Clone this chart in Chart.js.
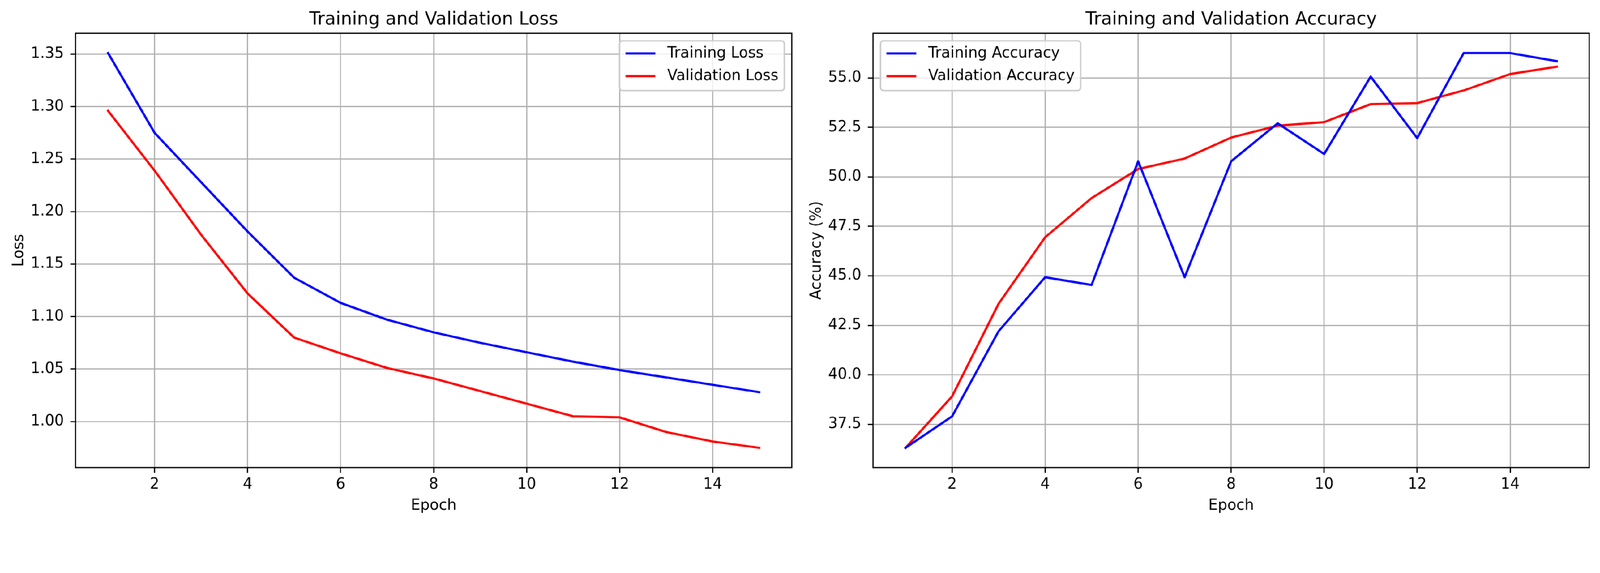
<!DOCTYPE html>
<html>
<head>
<meta charset="utf-8">
<title>Training and Validation</title>
<script src="https://cdn.jsdelivr.net/npm/chart.js@4.4.1/dist/chart.umd.min.js"></script>
<style>
  html, body { margin: 0; padding: 0; background: #fff; overflow: hidden; }
  #wrap { position: relative; width: 4470px; height: 1466px; transform-origin: 0 0; }
  #wrap canvas { position: absolute; top: 0; }
</style>
</head>
<body>
<div id="wrap">
  <canvas id="lossChart" width="2235" height="1466" style="left:0;width:2235px;height:1466px"></canvas>
  <canvas id="accChart" width="2235" height="1466" style="left:2235px;width:2235px;height:1466px"></canvas>
</div>
<script>
// values
const epochs = [1, 2, 3, 4, 5, 6, 7, 8, 9, 10, 11, 12, 13, 14, 15];
const trainLoss = [1.351, 1.275, 1.228, 1.181, 1.137, 1.113, 1.097, 1.085, 1.075, 1.066, 1.057, 1.049, 1.042, 1.035, 1.028];
const valLoss = [1.296, 1.239, 1.178, 1.122, 1.080, 1.065, 1.051, 1.041, 1.029, 1.017, 1.005, 1.004, 0.990, 0.981, 0.975];
const trainAcc = [36.31, 37.90, 42.20, 44.93, 44.54, 50.79, 44.93, 50.79, 52.71, 51.16, 55.07, 51.96, 56.26, 56.26, 55.85];
const valAcc = [36.31, 38.91, 43.59, 46.95, 48.93, 50.40, 50.93, 51.99, 52.59, 52.77, 53.68, 53.73, 54.37, 55.20, 55.57];

const epochTicks = [2, 4, 6, 8, 10, 12, 14];
const lossTicks = [1.00, 1.05, 1.10, 1.15, 1.20, 1.25, 1.30, 1.35];
const accTicks = [37.5, 40.0, 42.5, 45.0, 47.5, 50.0, 52.5, 55.0];

const PT = 300 / 72;
const FONT = "'DejaVu Sans', sans-serif";
const FS = 10 * PT;

// the page is laid out in 4470x1466 units; fit it to whatever viewport we get
const K = Math.min((window.innerWidth || 4470) / 4470, (window.innerHeight || 1466) / 1466);
document.getElementById('wrap').style.transform = 'scale(' + K + ')';
const DPR = (window.devicePixelRatio || 1) * K;

Chart.defaults.font.family = FONT;
Chart.defaults.color = '#000';

// matplotlib-like 5% margins around the data
function padRange(values) {
  const lo = Math.min(...values), hi = Math.max(...values);
  const m = (hi - lo) * 0.05;
  return [lo - m, hi + m];
}

const spinesAndLegend = {
  id: 'spinesAndLegend',
  afterDatasetsDraw(chart, args, opts) {
    const { ctx, chartArea: a } = chart;
    ctx.save();
    ctx.strokeStyle = '#000';
    ctx.lineWidth = 0.8 * PT;
    ctx.strokeRect(a.left, a.top, a.right - a.left, a.bottom - a.top);
    ctx.fillStyle = '#000';
    ctx.font = (12 * PT) + 'px ' + FONT;
    ctx.textAlign = 'center';
    ctx.textBaseline = 'alphabetic';
    ctx.fillText(opts.title, (a.left + a.right) / 2, a.top - 24);
    ctx.restore();
  },
  afterDraw(chart, args, opts) {
    const { ctx, chartArea: a } = chart;
    const sets = chart.data.datasets;
    const pad = 0.4 * FS, handle = 2 * FS, textPad = 0.8 * FS, gap = 0.5 * FS, rowH = 42.4;
    ctx.save();
    ctx.font = FS + 'px ' + FONT;
    let tw = 0;
    sets.forEach(d => { tw = Math.max(tw, ctx.measureText(d.label).width); });
    const w = 2 * pad + handle + textPad + tw;
    const h = 2 * pad + sets.length * rowH + (sets.length - 1) * gap;
    const x = opts.corner === 'right' ? a.right - 0.5 * FS - w : a.left + 0.5 * FS;
    const y = a.top + 0.5 * FS;
    ctx.beginPath();
    ctx.roundRect(x, y, w, h, 0.2 * FS);
    ctx.fillStyle = 'rgba(255,255,255,0.8)';
    ctx.fill();
    ctx.strokeStyle = '#cccccc';
    ctx.lineWidth = 1.0 * PT;
    ctx.stroke();
    sets.forEach((d, i) => {
      const cy = y + pad + rowH / 2 - 2.5 + i * (rowH + gap);
      ctx.beginPath();
      ctx.moveTo(x + pad, cy);
      ctx.lineTo(x + pad + handle, cy);
      ctx.strokeStyle = d.borderColor;
      ctx.lineWidth = 1.5 * PT;
      ctx.stroke();
      ctx.fillStyle = '#000';
      ctx.textAlign = 'left';
      ctx.textBaseline = 'middle';
      ctx.fillText(d.label, x + pad + handle + textPad, cy);
    });
    ctx.restore();
  }
};

function lineSet(label, values, color) {
  return {
    label: label,
    data: epochs.map((e, i) => ({ x: e, y: values[i] })),
    borderColor: color,
    backgroundColor: color,
    borderWidth: 1.5 * PT,
    borderJoinStyle: 'round',
    borderCapStyle: 'square',
    pointRadius: 0,
    tension: 0,
    fill: false
  };
}

function gridOpts() {
  return {
    color: '#b0b0b0',
    lineWidth: 0.8 * PT,
    tickColor: '#000',
    tickWidth: 0.8 * PT,
    tickLength: 3.5 * PT
  };
}

function makeChart(id, sets, yTicks, yDigits, yLabel, title, corner, yWidth, rightPad, yTitlePad) {
  const xr = padRange(epochs);
  const yr = padRange(sets.flatMap(s => s.data.map(p => p.y)));
  return new Chart(document.getElementById(id), {
    type: 'line',
    data: { datasets: sets },
    options: {
      responsive: false,
      animation: false,
      devicePixelRatio: DPR,
      events: [],
      layout: { padding: { top: 93, right: rightPad, bottom: 0, left: 0 } },
      scales: {
        x: {
          type: 'linear',
          min: xr[0],
          max: xr[1],
          afterBuildTicks: s => { s.ticks = epochTicks.map(v => ({ value: v })); },
          afterFit: s => { s.height = 161; },
          ticks: { font: { size: FS }, padding: 9, callback: v => String(v), autoSkip: false, maxRotation: 0 },
          grid: gridOpts(),
          border: { display: false },
          title: { display: true, text: 'Epoch', font: { size: FS }, padding: { top: 0, bottom: 28.4 } }
        },
        y: {
          type: 'linear',
          min: yr[0],
          max: yr[1],
          afterBuildTicks: s => { s.ticks = yTicks.map(v => ({ value: v })); },
          afterFit: s => { s.width = yWidth; },
          ticks: { font: { size: FS }, padding: 18, callback: v => Number(v).toFixed(yDigits), autoSkip: false },
          grid: gridOpts(),
          border: { display: false },
          title: { display: true, text: yLabel, font: { size: FS }, padding: { top: yTitlePad, bottom: 0 } }
        }
      },
      plugins: {
        legend: { display: false },
        tooltip: { enabled: false },
        spinesAndLegend: { title: title, corner: corner }
      }
    },
    plugins: [spinesAndLegend]
  });
}

makeChart('lossChart',
  [lineSet('Training Loss', trainLoss, 'blue'), lineSet('Validation Loss', valLoss, 'red')],
  lossTicks, 2, 'Loss', 'Training and Validation Loss', 'right', 211, 23, 28.5);

makeChart('accChart',
  [lineSet('Training Accuracy', trainAcc, 'blue'), lineSet('Validation Accuracy', valAcc, 'red')],
  accTicks, 1, 'Accuracy (%)', 'Training and Validation Accuracy', 'left', 204, 30, 21.5);
</script>
</body>
</html>
